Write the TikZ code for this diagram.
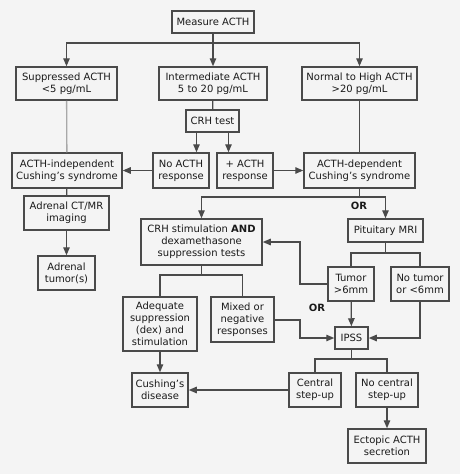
\documentclass[tikz,border=0pt]{standalone}
\usepackage{fontspec}
\setmainfont{DejaVu Sans}
\usetikzlibrary{arrows.meta}
\definecolor{bg}{HTML}{F4F4F4}
\definecolor{ln}{HTML}{4A4A4A}
\definecolor{lnlight}{HTML}{A8A8A8}
\definecolor{tx}{HTML}{1A1A1A}
\tikzset{
  box/.style={draw=ln, line width=1.5pt, fill=none, text=tx, align=center, inner sep=0pt,
    font=\fontsize{10}{12}\selectfont},
  conn/.style={draw=ln, line width=1.3pt},
  arr/.style={conn, -{Triangle[length=8pt,width=6.5pt]}},
  orlabel/.style={font=\fontsize{10}{12}\selectfont\bfseries, text=tx, inner sep=0pt}
}
\begin{document}
\begin{tikzpicture}[x=1pt,y=-1pt]
\fill[bg] (0,0) rectangle (460,474);
\useasboundingbox (0,0) rectangle (460,474);

\node[box, minimum width=82, minimum height=22] (measure) at (213,22) {Measure ACTH};
\node[box, minimum width=101, minimum height=33] (supp) at (66.5,83.5) {Suppressed ACTH\\<5 pg/mL};
\node[box, minimum width=108, minimum height=33] (inter) at (213,83.5) {Intermediate ACTH\\5 to 20 pg/mL};
\node[box, minimum width=115, minimum height=33] (normal) at (359.5,83.5) {Normal to High ACTH\\>20 pg/mL};
\node[box, minimum width=53, minimum height=22] (crh) at (212.5,121) {CRH test};
\node[box, minimum width=56, minimum height=35] (noacth) at (181,170.5) {No ACTH\\response};
\node[box, minimum width=56, minimum height=35] (plusacth) at (245,170.5) {+ ACTH\\response};
\node[box, minimum width=110, minimum height=35] (indep) at (67,170.5) {ACTH-independent\\Cushing’s syndrome};
\node[box, minimum width=111, minimum height=35] (dep) at (359.5,170.5) {ACTH-dependent\\Cushing’s syndrome};
\node[box, minimum width=85, minimum height=34] (adrct) at (66.5,213) {Adrenal CT/MR\\imaging};
\node[box, minimum width=57, minimum height=34] (adrtum) at (66.5,273) {Adrenal\\tumor(s)};
\node[box, minimum width=121, minimum height=46] (crhstim) at (201.5,242) {CRH stimulation \textbf{AND}\\dexamethasone\\suppression tests};
\node[box, minimum width=75, minimum height=23] (pitmri) at (385.5,230.5) {Pituitary MRI};
\node[box, minimum width=46, minimum height=34] (tumor) at (351,284) {Tumor\\>6mm};
\node[box, minimum width=58, minimum height=34] (notumor) at (420,284) {No tumor\\or <6mm};
\node[box, minimum width=74, minimum height=54] (adequate) at (160,324) {Adequate\\suppression\\(dex) and\\stimulation};
\node[box, minimum width=63, minimum height=45] (mixed) at (242.5,319.5) {Mixed or\\negative\\responses};
\node[box, minimum width=33, minimum height=22] (ipss) at (351.5,338) {IPSS};
\node[box, minimum width=52, minimum height=34] (central) at (315,390) {Central\\step-up};
\node[box, minimum width=62, minimum height=34] (nocentral) at (387,390) {No central\\step-up};
\node[box, minimum width=56, minimum height=34] (cushing) at (160,390) {Cushing’s\\disease};
\node[box, minimum width=78, minimum height=34] (ectopic) at (387,446) {Ectopic ACTH\\secretion};

\node[orlabel] (or1) at (359,206) {OR};
\node[orlabel] (or2) at (317,308) {OR};

\coordinate (s1) at (213,43);
\coordinate (s2) at (359.5,197);
\coordinate (s3) at (385.5,253);
\coordinate (s4) at (201.5,275);
\coordinate (s5) at (351.5,359);
\coordinate (bendA) at (300,284);
\coordinate (bendB) at (300,320);

% top
\draw[conn] (measure) -- (s1);
\draw[arr] (s1) -| (supp);
\draw[arr] (s1) -- (inter);
\draw[arr] (s1) -| (normal);
\draw[conn] (inter) -- (crh);
\draw[arr] ([xshift=-16pt]crh.south) -- ([xshift=-16pt]crh.south |- noacth.north);
\draw[arr] ([xshift=16pt]crh.south) -- ([xshift=16pt]crh.south |- plusacth.north);
\draw[arr] (noacth) -- (indep);
\draw[arr] (plusacth) -- (dep);
\draw[conn, draw=lnlight] (supp) -- (indep);
\draw[conn] (normal) -- (dep);
\draw[conn] (indep) -- (adrct);
\draw[arr] (adrct) -- (adrtum);

% ACTH-dependent branch
\draw[conn] (dep) -- (s2);
\draw[arr] (s2) -| (crhstim);
\draw[arr] (s2) -| (pitmri);
\draw[conn] (pitmri) -- (s3);
\draw[conn] (s3) -| (tumor);
\draw[conn] (s3) -| (notumor);
\draw[arr] (tumor.west) -- (bendA) |- (crhstim.east);
\draw[arr] (tumor) -- (ipss);
\draw[arr] (notumor.south) |- (ipss.east);

\draw[conn] (crhstim) -- (s4);
\draw[conn] (s4) -| (adequate);
\draw[conn] (s4) -| (mixed);
\draw[arr] (mixed.east |- bendB) -- (bendB) |- (ipss.west);
\draw[arr] (adequate) -- (cushing);

\draw[conn] (ipss) -- (s5);
\draw[conn] (s5) -| (central);
\draw[conn] (s5) -| (nocentral);
\draw[arr] (central) -- (cushing);
\draw[arr] (nocentral) -- (ectopic);
\end{tikzpicture}
\end{document}
